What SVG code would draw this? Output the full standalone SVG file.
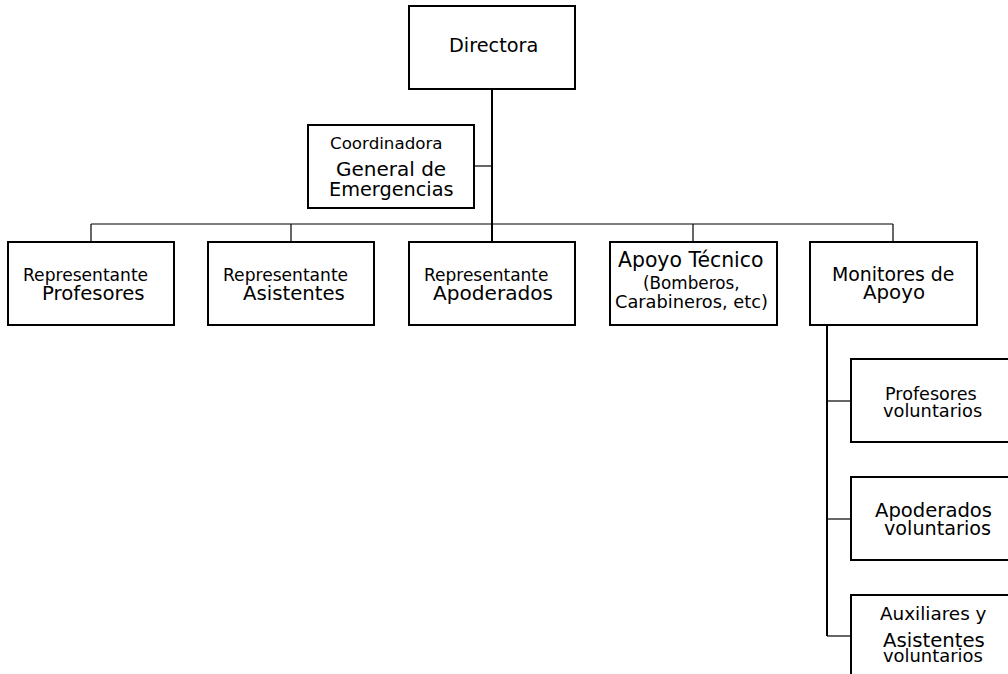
<svg xmlns="http://www.w3.org/2000/svg" width="1008" height="674" viewBox="0 0 1008 674">
<style>
rect.box{fill:#fff;stroke:#000;stroke-width:2}
text{font-family:"DejaVu Sans","Noto Sans",sans-serif;fill:#000}
.thin{stroke:#000;stroke-width:1.2;fill:none}
.thick{stroke:#000;stroke-width:2;fill:none}
</style>
<rect width="1008" height="674" fill="#fff"/>
<g id="connectors">
<line class="thick" x1="492" y1="89" x2="492" y2="242"/>
<line class="thin" x1="474" y1="166" x2="492" y2="166"/>
<line class="thin" x1="91" y1="224" x2="893" y2="224"/>
<line class="thin" x1="91" y1="224" x2="91" y2="242"/>
<line class="thin" x1="291" y1="224" x2="291" y2="242"/>
<line class="thin" x1="693" y1="224" x2="693" y2="242"/>
<line class="thin" x1="893" y1="224" x2="893" y2="242"/>
<line class="thick" x1="827" y1="325" x2="827" y2="636"/>
<line class="thin" x1="827" y1="401" x2="851" y2="401"/>
<line class="thin" x1="827" y1="519" x2="851" y2="519"/>
<line class="thin" x1="827" y1="636" x2="851" y2="636"/>
</g>
<g id="directora">
<rect class="box" x="409" y="6" width="166" height="83"/>
<text x="449" y="52" font-size="19.3">Directora</text>
</g>
<g id="coordinadora">
<rect class="box" x="308" y="125" width="166" height="83"/>
<text x="330" y="149" font-size="16.7">Coordinadora</text>
<text x="336" y="176" font-size="20">General de</text>
<text x="329" y="196" font-size="19.3">Emergencias</text>
</g>
<g id="rep-profesores">
<rect class="box" x="8" y="242" width="166" height="83"/>
<text x="23" y="281" font-size="17.1">Representante</text>
<text x="42" y="300" font-size="19.7">Profesores</text>
</g>
<g id="rep-asistentes">
<rect class="box" x="208" y="242" width="166" height="83"/>
<text x="223" y="281" font-size="17.1">Representante</text>
<text x="243" y="300" font-size="19.7">Asistentes</text>
</g>
<g id="rep-apoderados">
<rect class="box" x="409" y="242" width="166" height="83"/>
<text x="424" y="281" font-size="17">Representante</text>
<text x="433" y="300" font-size="20.1">Apoderados</text>
</g>
<g id="apoyo-tecnico">
<rect class="box" x="610" y="242" width="167" height="83"/>
<text x="618" y="267" font-size="20.4">Apoyo Técnico</text>
<text x="643" y="289" font-size="16.8">(Bomberos,</text>
<text x="615" y="308" font-size="17.8">Carabineros, etc)</text>
</g>
<g id="monitores">
<rect class="box" x="810" y="242" width="167" height="83"/>
<text x="832" y="281" font-size="18.9">Monitores de</text>
<text x="863" y="299" font-size="19.8">Apoyo</text>
</g>
<g id="profesores-voluntarios">
<rect class="box" x="851" y="359" width="200" height="83"/>
<text x="885" y="400" font-size="17.6">Profesores</text>
<text x="883" y="417" font-size="17.8">voluntarios</text>
</g>
<g id="apoderados-voluntarios">
<rect class="box" x="851" y="477" width="200" height="83"/>
<text x="875" y="517" font-size="19.6">Apoderados</text>
<text x="884" y="535" font-size="19.2">voluntarios</text>
</g>
<g id="auxiliares-voluntarios">
<rect class="box" x="851" y="595" width="200" height="100"/>
<text x="880" y="620" font-size="18.4">Auxiliares y</text>
<text x="883" y="647" font-size="19.7">Asistentes</text>
<text x="883" y="662" font-size="17.9">voluntarios</text>
</g>
</svg>
